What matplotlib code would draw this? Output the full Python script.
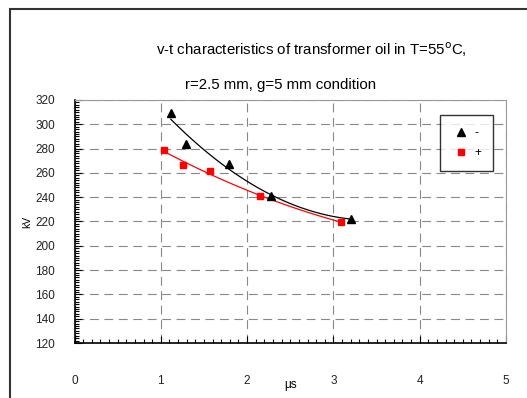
import numpy as np
import matplotlib
matplotlib.use('Agg')
import matplotlib.pyplot as plt
from matplotlib.patches import Rectangle
from matplotlib.ticker import MultipleLocator

plt.rcParams['font.family'] = ['Liberation Sans', 'DejaVu Sans']

# data
t_neg = [1.116, 1.297, 1.794, 2.272, 3.20]
v_neg = [309, 284, 267, 241, 222]
t_pos = [1.038, 1.254, 1.566, 2.145, 3.09]
v_pos = [279, 266.5, 261.5, 241, 219.5]
xticks = [0, 1, 2, 3, 4, 5]
yticks = [120, 140, 160, 180, 200, 220, 240, 260, 280, 300, 320]

W, H = 527, 398
fig = plt.figure(figsize=(W / 100, H / 100), dpi=100)
ax = fig.add_axes([74.5 / W, 1 - 343 / H, 431.5 / W, 243 / H])

# outer chart frame (only left/top visible)
fig.patches.append(Rectangle((10 / W, -0.2), 1.2, 1.2 - 9 / H,
                             transform=fig.transFigure, fill=False,
                             edgecolor='#333333', linewidth=1.5, clip_on=False))

# trend lines (2nd order polynomial fit)
for t, v, c in [(t_neg, v_neg, 'black'), (t_pos, v_pos, 'red')]:
    p = np.polyfit(t, v, 2)
    xs = np.linspace(min(t), max(t), 100)
    ax.plot(xs, np.polyval(p, xs), color=c, lw=0.9)

ax.plot(t_neg, v_neg, '^', color='black', ms=5.8, ls='none', label='-')
ax.plot(t_pos, v_pos, 's', color='red', ms=4.3, ls='none', label='+')

ax.set_xlim(0, 5)
ax.set_ylim(120, 320)
ax.set_xticks(xticks)
ax.set_yticks(yticks)
ax.xaxis.set_minor_locator(MultipleLocator(0.1))
ax.yaxis.set_minor_locator(MultipleLocator(2))
ax.tick_params(which='both', direction='in', top=False, right=False,
               labelsize=8.5, labelcolor='#222222')
ax.tick_params(which='major', length=5, width=0.8)
ax.tick_params(which='minor', length=3, width=0.8)
ax.tick_params(axis='x', pad=23)
ax.tick_params(axis='y', pad=14)

ax.grid(True, which='major', color='#888888', linestyle=(0, (8, 5)), lw=0.8)
ax.spines['top'].set_color('#999999')
ax.spines['right'].set_color('#999999')
ax.spines['left'].set_linewidth(1.2)
ax.spines['bottom'].set_linewidth(1.2)

ax.set_xlabel('\u03bcs', fontsize=8.5)
ax.xaxis.set_label_coords(0.5, -0.15)
ax.set_ylabel('kV', fontsize=7.5)
ax.yaxis.set_label_coords(-0.098, 0.498)

fig.text(311 / W, 1 - 50 / H, r'v-t characteristics of transformer oil in T=55$^{\mathrm{o}}$C,',
         ha='center', va='center', fontsize=10.8)
fig.text(281 / W, 1 - 85 / H, 'r=2.5 mm, g=5 mm condition',
         ha='center', va='center', fontsize=10.8)

leg = ax.legend(loc='upper left', bbox_to_anchor=(0.847, 0.938), fontsize=8.5,
                frameon=True, fancybox=False, edgecolor='black', borderaxespad=0,
                handletextpad=0.35, borderpad=1.0, labelspacing=0.72, handlelength=1.6)
leg.get_frame().set_linewidth(1.0)

plt.savefig('out.png', dpi=100)
